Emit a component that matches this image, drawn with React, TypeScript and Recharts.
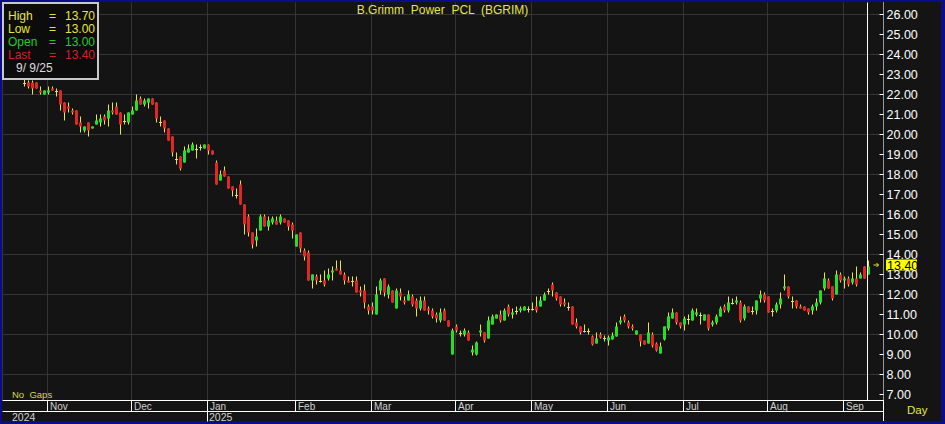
import React from "react";
import { ComposedChart, Bar, XAxis, YAxis, CartesianGrid, ReferenceLine } from "recharts";

// daily bars, Oct 2024 -> 9 Sep 2025 (first few sit under the info box)
const opens = [
  23.0, 23.1, 23.0, 22.9, 22.6, 22.6, 22.6, 22.6, 22.2, 22.0,
  22.1, 22.3, 22.2, 22.2, 21.6, 21.4, 21.2, 21.2, 20.6, 20.2,
  20.6, 20.3, 20.5, 20.6, 20.9, 20.8, 21.2, 21.4, 21.1, 20.7,
  20.6, 21.0, 21.2, 21.8, 21.5, 21.6, 21.8, 21.6, 20.6, 20.7,
  20.3, 19.9, 18.8, 18.9, 18.6, 19.1, 19.2, 19.3, 19.4, 19.3,
  19.5, 19.2, 18.6, 17.7, 18.2, 17.9, 17.4, 17.0, 17.5, 16.5,
  15.9, 15.1, 14.7, 15.2, 15.9, 15.4, 15.6, 15.7, 15.6, 15.8,
  15.7, 15.5, 14.4, 15.1, 14.2, 14.1, 12.7, 12.9, 12.7, 12.7,
  12.8, 13.1, 13.3, 13.2, 13.0, 12.7, 12.7, 12.7, 12.2, 12.2,
  11.4, 11.4, 11.0, 12.2, 12.8, 12.0, 12.2, 11.3, 12.1, 11.7,
  11.7, 11.9, 11.7, 11.3, 11.7, 11.3, 11.2, 11.0, 10.7, 11.2,
  10.7, 9.0, 10.4, 10.1, 10.0, 10.1, 9.1, 9.0, 10.1, 10.1,
  9.8, 10.5, 10.8, 11.0, 10.7, 11.4, 11.0, 11.2, 11.2, 11.2,
  11.3, 11.3, 11.4, 11.4, 11.7, 12.2, 12.5, 12.1, 11.9, 11.6,
  11.4, 11.4, 10.6, 10.4, 10.2, 10.2, 9.9, 9.55, 10.0, 9.85,
  9.7, 9.75, 9.9, 10.6, 10.9, 10.6, 10.4, 10.0, 10.0, 9.7,
  9.55, 10.0, 9.55, 9.05, 9.75, 10.3, 10.8, 11.1, 10.6, 10.5,
  10.8, 10.7, 11.0, 11.0, 10.7, 11.0, 10.5, 10.6, 10.9, 11.4,
  11.2, 11.6, 11.6, 11.6, 10.8, 11.4, 11.2, 11.2, 11.8, 12.0,
  11.9, 11.2, 11.2, 11.5, 12.3, 12.4, 11.7, 11.7, 11.4, 11.4,
  11.3, 11.2, 11.4, 11.6, 12.3, 12.7, 12.4, 12.0, 13.0, 12.7,
  12.8, 12.6, 12.8, 12.8, 13.4, 13.0,
];
const highs = [
  23.2, 23.2, 23.1, 23.0, 22.8, 22.7, 22.7, 22.6, 22.4, 22.2,
  22.4, 22.4, 22.3, 22.2, 21.6, 21.6, 21.3, 21.2, 20.9, 20.4,
  20.6, 20.4, 21.0, 21.0, 21.0, 21.5, 21.6, 21.6, 21.1, 21.0,
  21.1, 21.4, 22.0, 21.9, 21.8, 21.8, 21.8, 21.6, 20.9, 20.7,
  20.3, 19.9, 19.1, 18.9, 19.4, 19.5, 19.6, 19.5, 19.5, 19.5,
  19.5, 19.2, 18.7, 18.2, 18.4, 17.9, 17.4, 17.3, 17.7, 16.5,
  16.0, 15.1, 15.3, 16.0, 16.0, 15.9, 15.9, 15.9, 16.0, 15.8,
  15.7, 15.6, 15.0, 15.1, 14.3, 14.2, 13.0, 13.0, 13.0, 13.2,
  13.3, 13.4, 13.7, 13.7, 13.1, 12.9, 12.9, 12.9, 12.4, 12.5,
  11.5, 11.6, 12.4, 12.8, 12.8, 12.5, 12.2, 12.3, 12.3, 11.9,
  12.2, 12.0, 11.8, 11.9, 11.9, 11.4, 11.3, 11.1, 11.3, 11.3,
  10.7, 10.3, 10.5, 10.2, 10.3, 10.2, 9.45, 9.65, 10.5, 10.1,
  10.9, 11.0, 11.0, 11.2, 11.3, 11.5, 11.3, 11.4, 11.4, 11.4,
  11.4, 11.6, 11.9, 11.9, 12.1, 12.3, 12.6, 12.1, 11.9, 11.8,
  11.6, 11.4, 10.8, 10.4, 10.5, 10.3, 9.95, 10.1, 10.1, 9.95,
  9.95, 10.1, 10.6, 10.9, 11.0, 10.7, 10.5, 10.2, 10.0, 9.7,
  10.6, 10.1, 9.6, 9.6, 10.4, 11.1, 11.3, 11.1, 10.6, 10.9,
  11.0, 11.3, 11.3, 11.1, 11.0, 11.0, 10.7, 11.0, 11.4, 11.5,
  11.9, 11.8, 11.9, 11.7, 11.5, 11.4, 11.4, 11.7, 12.2, 12.1,
  11.9, 11.3, 11.6, 12.1, 13.0, 12.4, 11.9, 11.7, 11.5, 11.4,
  11.3, 11.5, 11.8, 12.2, 13.1, 12.8, 12.4, 13.2, 13.1, 12.9,
  12.9, 13.1, 13.4, 13.1, 13.4, 13.7,
];
const lows = [
  22.9, 22.9, 22.8, 22.8, 22.4, 22.3, 22.0, 22.3, 22.0, 22.0,
  22.0, 22.2, 21.9, 21.2, 20.7, 21.1, 21.0, 20.5, 20.1, 20.1,
  19.9, 20.3, 20.5, 20.4, 20.5, 20.4, 21.0, 21.0, 20.0, 20.5,
  20.5, 21.0, 21.2, 21.5, 21.4, 21.3, 21.5, 20.6, 20.4, 20.1,
  19.7, 18.9, 18.5, 18.2, 18.6, 19.1, 19.2, 18.8, 19.2, 19.3,
  19.0, 19.0, 17.5, 17.7, 17.9, 17.3, 16.9, 16.8, 16.5, 15.0,
  14.9, 14.3, 14.4, 15.2, 15.4, 15.2, 15.5, 15.5, 15.5, 15.6,
  15.2, 14.8, 14.4, 14.1, 13.7, 12.7, 12.3, 12.5, 12.6, 12.4,
  12.7, 12.7, 13.2, 13.0, 12.5, 12.6, 12.4, 12.1, 11.9, 11.3,
  11.0, 11.0, 11.0, 12.0, 11.9, 11.8, 11.6, 11.3, 11.7, 11.5,
  11.7, 11.4, 10.9, 11.2, 11.2, 11.0, 10.8, 10.6, 10.6, 10.7,
  10.4, 9.0, 10.1, 9.9, 9.9, 9.7, 8.95, 8.95, 9.9, 9.6,
  9.8, 10.5, 10.8, 10.6, 10.7, 10.9, 10.8, 11.0, 11.1, 11.2,
  11.1, 11.2, 11.1, 11.4, 11.7, 12.0, 11.9, 11.7, 11.4, 11.4,
  11.2, 10.5, 10.3, 10.0, 10.1, 10.0, 9.45, 9.55, 9.8, 9.65,
  9.45, 9.75, 9.9, 10.5, 10.6, 10.3, 10.2, 10.0, 9.4, 9.5,
  9.55, 9.35, 9.15, 9.05, 9.7, 10.2, 10.8, 10.5, 10.3, 10.2,
  10.5, 10.7, 10.9, 10.5, 10.7, 10.2, 10.4, 10.5, 10.9, 11.1,
  11.1, 11.5, 11.5, 10.6, 10.7, 11.1, 11.0, 11.0, 11.6, 11.6,
  11.1, 10.9, 11.1, 11.3, 12.2, 11.8, 11.3, 11.3, 11.3, 11.2,
  11.0, 11.0, 11.2, 11.5, 12.2, 12.3, 11.7, 12.0, 12.6, 12.3,
  12.4, 12.5, 12.4, 12.8, 12.8, 13.0,
];
const closes = [
  23.1, 23.0, 22.9, 22.8, 22.6, 22.4, 22.3, 22.3, 22.1, 22.2,
  22.2, 22.2, 22.2, 21.5, 21.1, 21.3, 21.1, 20.5, 20.4, 20.4,
  20.2, 20.4, 20.7, 20.8, 20.7, 21.2, 21.1, 21.0, 20.5, 20.7,
  21.1, 21.2, 21.7, 21.5, 21.7, 21.8, 21.5, 20.8, 20.6, 20.3,
  19.7, 19.1, 18.8, 18.3, 19.2, 19.3, 19.5, 19.3, 19.4, 19.5,
  19.2, 19.0, 17.5, 18.0, 17.9, 17.3, 17.2, 17.0, 16.5, 15.5,
  15.1, 14.5, 14.9, 15.9, 15.4, 15.7, 15.8, 15.5, 15.9, 15.6,
  15.4, 15.2, 15.0, 14.3, 13.9, 12.7, 13.0, 12.7, 12.7, 12.5,
  13.0, 13.2, 13.2, 13.0, 12.7, 12.6, 12.7, 12.1, 12.1, 11.6,
  11.2, 11.2, 12.0, 12.7, 12.1, 12.4, 11.6, 12.2, 11.9, 11.6,
  12.0, 11.5, 11.3, 11.7, 11.2, 11.2, 10.9, 10.8, 11.1, 10.7,
  10.4, 10.2, 10.2, 10.1, 10.2, 9.7, 9.25, 9.6, 10.2, 9.7,
  10.7, 10.9, 11.0, 10.7, 11.2, 11.0, 11.1, 11.2, 11.3, 11.4,
  11.3, 11.3, 11.2, 11.7, 12.0, 12.2, 12.2, 11.8, 11.5, 11.5,
  11.4, 10.5, 10.4, 10.1, 10.2, 10.2, 9.5, 9.8, 9.85, 9.85,
  9.85, 9.95, 10.4, 10.7, 10.7, 10.4, 10.3, 10.2, 9.65, 9.5,
  10.1, 9.45, 9.2, 9.4, 10.4, 10.9, 11.1, 10.6, 10.4, 10.8,
  10.8, 11.2, 11.1, 11.0, 11.0, 10.3, 10.6, 10.9, 11.3, 11.2,
  11.6, 11.6, 11.7, 10.7, 11.4, 11.1, 11.2, 11.7, 12.0, 11.7,
  11.1, 11.2, 11.5, 11.8, 12.4, 11.9, 11.7, 11.4, 11.3, 11.2,
  11.1, 11.4, 11.6, 12.2, 12.8, 12.3, 11.8, 13.0, 12.7, 12.8,
  12.5, 12.8, 12.5, 13.0, 12.8, 13.4,
];

const monthStarts = [10, 31, 50, 72, 91, 112, 131, 150, 169, 190, 209];
const monthLabels = ["Nov", "Dec", "Jan", "Feb", "Mar", "Apr", "May", "Jun", "Jul", "Aug", "Sep"];
const yearStarts = [0, 50];
const yearLabels = ["2024", "2025"];
const priceTicks = [7, 8, 9, 10, 11, 12, 13, 14, 15, 16, 17, 18, 19, 20, 21, 22, 23, 24, 25, 26];
const gridValues = [8, 10, 12, 14, 16, 18, 20, 22, 24, 26];
const lastDate = "9/ 9/25";

const last = closes.length - 1;
const candles = opens.map((open, i) => ({
  i,
  open,
  high: highs[i],
  low: lows[i],
  close: closes[i],
  range: [lows[i], highs[i]],
}));
const leftTicks = Array.from({ length: 100 }, (_, k) => Math.round((6.8 + k * 0.2) * 10) / 10);

const FONT = '"Liberation Sans", Arial, sans-serif';
const BG = "#141414";
const GRID = "#353535";
const UP = "#22e022";
const DOWN = "#e22626";
const WICK = "#e8e83c";
const YELLOW = "#e6e640";
const FRAME = "#0c0c8a";

function Candle(props: any) {
  const { x, y, width, height, payload } = props;
  if (!payload) return null;
  const { open, close, high, low } = payload;
  const ppu = high > low ? height / (high - low) : 20;
  const yOf = (v: number) => y + (high - v) * ppu;
  const cx = Math.floor(x + width / 2) + 0.5;
  const top = yOf(Math.max(open, close));
  const bot = yOf(Math.min(open, close));
  return (
    <g>
      <line x1={cx} x2={cx} y1={y} y2={y + height} stroke={WICK} strokeWidth={1} />
      {open === close ? (
        <line x1={cx - 1.5} x2={cx + 1.5} y1={Math.round(top) + 0.5} y2={Math.round(top) + 0.5} stroke={WICK} />
      ) : (
        <rect x={cx - 1.5} y={top} width={3} height={Math.max(1, bot - top)} fill={close > open ? UP : DOWN} />
      )}
    </g>
  );
}

function PriceTick(props: any) {
  const { x, y, payload } = props;
  return (
    <g>
      <line x1={x - 4} x2={x} y1={y} y2={y} stroke="#fff" />
      <text x={x + 3} y={y + 4.5} fill="#fff" fontSize={12.5} fontFamily={FONT}>
        {Number(payload.value).toFixed(2)}
      </text>
    </g>
  );
}

function EdgeTick(props: any) {
  const { x, y, payload } = props;
  const major = Math.abs(payload.value - Math.round(payload.value)) < 0.01;
  return <line x1={x} x2={x + (major ? 4 : 2)} y1={y} y2={y} stroke="#fff" />;
}

function MonthTick(props: any) {
  const { x, y, payload } = props;
  const k = monthStarts.indexOf(payload.value);
  const lx = Math.floor(x) + 0.5;
  return (
    <g>
      <line x1={lx} x2={lx} y1={y} y2={y + 11} stroke="#fff" />
      <text x={lx + 2.5} y={y + 9.5} fill="#d0d0d0" fontSize={10} fontFamily={FONT}>
        {monthLabels[k]}
      </text>
    </g>
  );
}

function YearTick(props: any) {
  const { x, y, payload } = props;
  const k = yearStarts.indexOf(payload.value);
  const lx = Math.floor(x) + 0.5;
  return (
    <g>
      {k > 0 && <line x1={lx} x2={lx} y1={y} y2={y + 10} stroke="#fff" />}
      <text x={k > 0 ? lx + 1.5 : lx + 4.5} y={y + 9} fill="#d0d0d0" fontSize={10.5} fontFamily={FONT}>
        {yearLabels[k]}
      </text>
    </g>
  );
}

function LastTag(props: any) {
  const { viewBox } = props;
  if (!viewBox) return null;
  const right = viewBox.x + viewBox.width;
  const y = viewBox.y;
  return (
    <g>
      <path d={`M${right - 10} ${y - 1.5}h5 M${right - 7} ${y - 3.5}l2 2l-2 2`} stroke={YELLOW} fill="none" />
      <rect x={right + 2.5} y={y - 7} width={31} height={11} fill="#ffff00" />
      <text x={right + 3.5} y={y + 3} fill="#000" fontSize={12.5} fontFamily={FONT}>
        {closes[last].toFixed(2)}
      </text>
    </g>
  );
}

function InfoBox() {
  const rows = [
    { label: "High", value: highs[last], color: YELLOW },
    { label: "Low", value: lows[last], color: YELLOW },
    { label: "Open", value: opens[last], color: "#22cc22" },
    { label: "Last", value: closes[last], color: "#d82020" },
  ];
  return (
    <div
      style={{
        position: "absolute", left: 2, top: 2, width: 97, height: 78, boxSizing: "border-box",
        border: "2px solid #c8c8c8", background: "#0c0c0c", padding: "6px 0 0 4px",
        fontFamily: FONT, fontSize: 12, lineHeight: "13px", whiteSpace: "pre",
      }}
    >
      {rows.map((r) => (
        <div key={r.label} style={{ color: r.color }}>
          <span style={{ display: "inline-block", width: 41 }}>{r.label}</span>
          <span style={{ display: "inline-block", width: 16 }}>=</span>
          <span>{r.value.toFixed(2)}</span>
        </div>
      ))}
      <div style={{ color: "#dcdcdc", paddingLeft: 8 }}>{lastDate}</div>
    </div>
  );
}

export default function App() {
  return (
    <div style={{ position: "relative", width: 945, height: 424, background: FRAME, overflow: "hidden" }}>
      <style>{"body{margin:0}"}</style>
      <div style={{ position: "absolute", left: 2, top: 2, width: 939, height: 419, background: BG }} />
      <div style={{ position: "absolute", left: 0, top: 0 }}>
        <ComposedChart
          width={945}
          height={424}
          data={candles}
          margin={{ top: 2.5, right: 3.5, bottom: 2.5, left: 2.5 }}
        >
          <CartesianGrid yAxisId="price" stroke={GRID} horizontalValues={gridValues} />
          <XAxis
            dataKey="i"
            type="category"
            ticks={monthStarts}
            interval={0}
            height={11}
            padding={{ left: 3, right: 14 }}
            axisLine={{ stroke: "#fff" }}
            tickLine={false}
            tickSize={0}
            tickMargin={0}
            tick={<MonthTick />}
          />
          <XAxis
            xAxisId="year"
            dataKey="i"
            type="category"
            ticks={yearStarts}
            interval={0}
            height={10}
            padding={{ left: 3, right: 14 }}
            axisLine={{ stroke: "#fff" }}
            tickLine={false}
            tickSize={0}
            tickMargin={0}
            tick={<YearTick />}
          />
          <YAxis
            yAxisId="price"
            orientation="right"
            width={58}
            type="number"
            domain={[6.7, 26.6]}
            allowDataOverflow
            ticks={priceTicks}
            interval={0}
            axisLine={{ stroke: "#fff", strokeDasharray: "1 1" }}
            tickLine={false}
            tickSize={0}
            tickMargin={0}
            tick={<PriceTick />}
          />
          <YAxis
            yAxisId="left"
            orientation="left"
            width={0}
            mirror
            type="number"
            domain={[6.7, 26.6]}
            allowDataOverflow
            ticks={leftTicks}
            interval={0}
            axisLine={{ stroke: "#fff" }}
            tickLine={false}
            tickSize={0}
            tickMargin={0}
            tick={<EdgeTick />}
          />
          <Bar dataKey="range" yAxisId="price" barSize={3} isAnimationActive={false} shape={<Candle />} />
          <ReferenceLine x={last} yAxisId="price" stroke="#fff" />
          <ReferenceLine y={closes[last]} yAxisId="price" stroke="none" label={<LastTag />} />
        </ComposedChart>
      </div>
      <div style={{ position: "absolute", left: 883, top: 400, width: 1, height: 21, background: "#fff" }} />
      <div
        style={{
          position: "absolute", left: 0, width: 885, top: 3, textAlign: "center",
          color: YELLOW, fontFamily: FONT, fontSize: 12, whiteSpace: "pre",
        }}
      >
        {"B.Grimm  Power  PCL  (BGRIM)"}
      </div>
      <div style={{ position: "absolute", left: 12, top: 389, color: "#d8d840", fontFamily: FONT, fontSize: 9.5, whiteSpace: "pre" }}>
        {"No  Gaps"}
      </div>
      <div style={{ position: "absolute", left: 907, top: 404, color: YELLOW, fontFamily: FONT, fontSize: 11.5 }}>Day</div>
      <InfoBox />
    </div>
  );
}
